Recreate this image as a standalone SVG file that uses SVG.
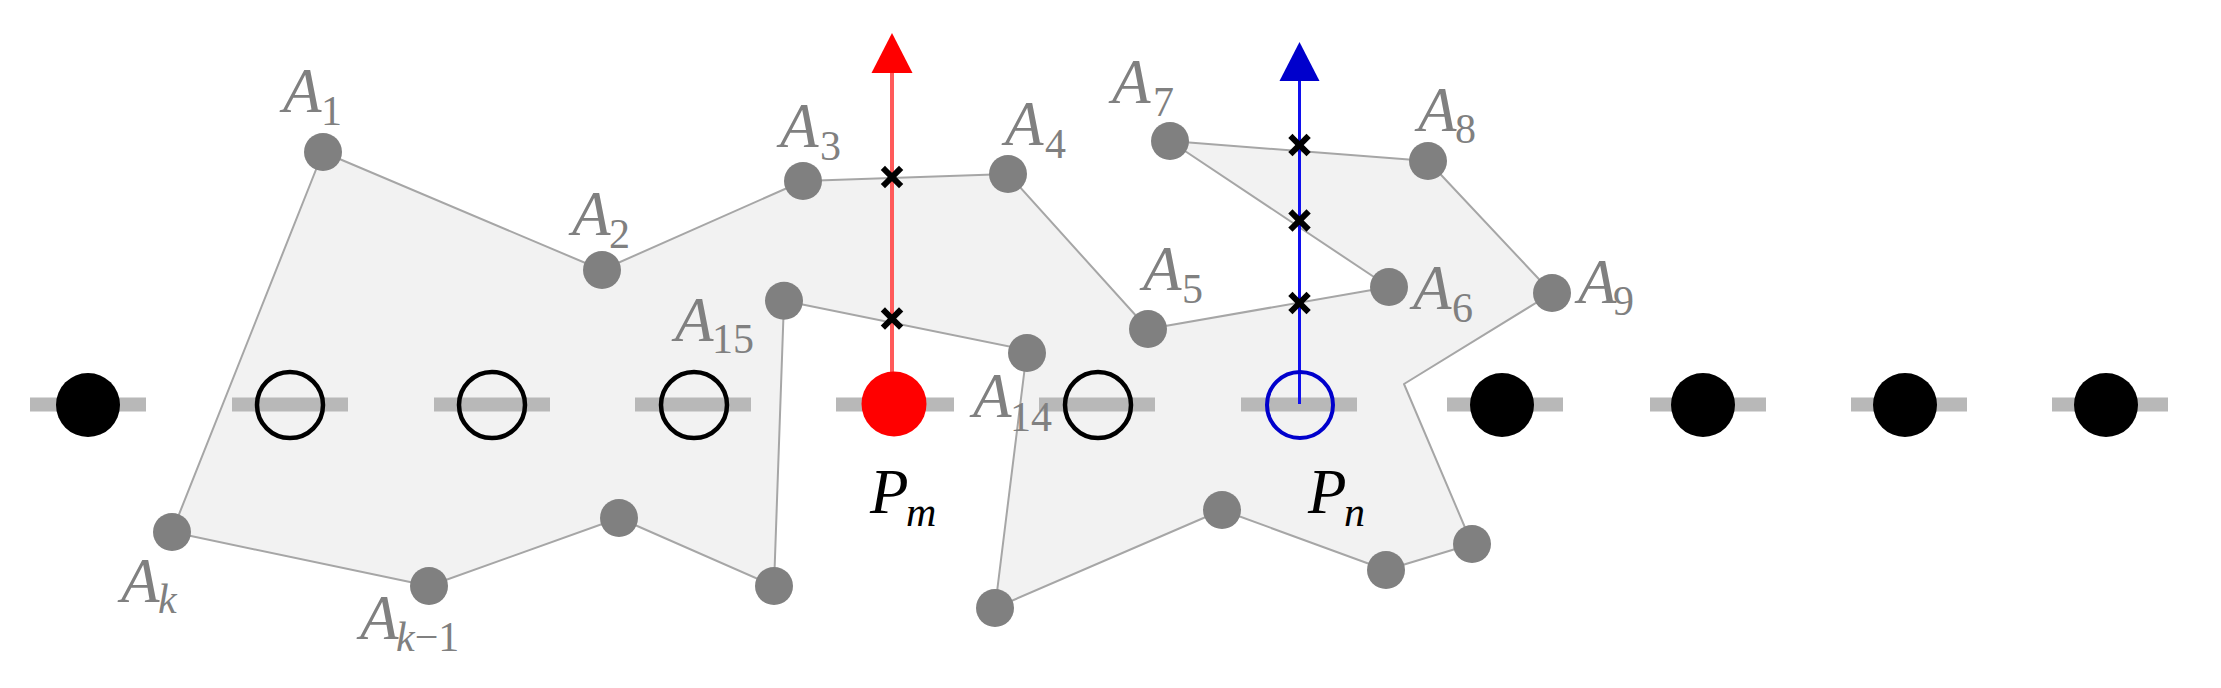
<svg xmlns="http://www.w3.org/2000/svg" width="2221" height="688" viewBox="0 0 2221 688">
<style>
.lbl{font-family:"Liberation Serif","DejaVu Serif",serif;font-style:italic;font-size:63px;fill:#808080}
.pl{font-family:"Liberation Serif","DejaVu Serif",serif;font-style:italic;font-size:63px;fill:#000}
.sub{font-size:42px;font-style:normal}
.subi{font-size:42px;font-style:italic}
.v{fill:#808080}
.dash{stroke:#b8b8b8;stroke-width:14}
.full{fill:#000}
.open{fill:none;stroke:#000;stroke-width:4.5}
.x{stroke:#000;stroke-width:6;stroke-linecap:square}
</style>
<defs>
<g id="xm"><line class="x" x1="-7" y1="-7" x2="7" y2="7"/><line class="x" x1="-7" y1="7" x2="7" y2="-7"/></g>
</defs>
<rect width="2221" height="688" fill="#fff"/>
<g id="polygon">
<polygon points="323,152 602,270 803,181 1008,174 1148,329 1389,287 1170,141 1428,161 1552,293 1404,384 1472,544 1386,570 1222,510 995,608 1027,350 784,300.7 774,586 619,518 429,586 172,532" fill="#f2f2f2" stroke="#a6a6a6" stroke-width="2" stroke-linejoin="round"/>
</g>
<g id="baseline">
<line class="dash" x1="30" y1="404.5" x2="146" y2="404.5"/>
<line class="dash" x1="232" y1="404.5" x2="348" y2="404.5"/>
<line class="dash" x1="434" y1="404.5" x2="550" y2="404.5"/>
<line class="dash" x1="635" y1="404.5" x2="751" y2="404.5"/>
<line class="dash" x1="836" y1="404.5" x2="954" y2="404.5"/>
<line class="dash" x1="1039" y1="404.5" x2="1155" y2="404.5"/>
<line class="dash" x1="1241" y1="404.5" x2="1357" y2="404.5"/>
<line class="dash" x1="1447" y1="404.5" x2="1563" y2="404.5"/>
<line class="dash" x1="1650" y1="404.5" x2="1766" y2="404.5"/>
<line class="dash" x1="1851" y1="404.5" x2="1967" y2="404.5"/>
<line class="dash" x1="2052" y1="404.5" x2="2168" y2="404.5"/>
</g>
<g id="connectors">
<line x1="892" y1="404" x2="892" y2="70" stroke="#ff5a5a" stroke-width="4"/>
<polygon points="892,33 871.5,73 912.5,73" fill="#ff0000"/>
<line x1="1299.5" y1="404" x2="1299.5" y2="79" stroke="#1010ee" stroke-width="3"/>
<polygon points="1299.5,42 1279.5,81 1319.5,81" fill="#0000cc"/>
</g>
<g id="crossings">
<use href="#xm" x="892" y="177"/>
<use href="#xm" x="892" y="318.5"/>
<use href="#xm" x="1299.5" y="145"/>
<use href="#xm" x="1299.5" y="220.5"/>
<use href="#xm" x="1299.5" y="303"/>
</g>
<g id="grid-points">
<circle id="g0" class="full" cx="88" cy="405" r="32"/>
<circle id="g1" class="open" cx="290" cy="405" r="33"/>
<circle id="g2" class="open" cx="492" cy="405" r="33"/>
<circle id="g3" class="open" cx="694" cy="405" r="33"/>
<g id="Pm"><circle cx="894" cy="404" r="32.5" fill="#ff0000"/>
<text class="pl" x="870" y="513">P<tspan class="subi" x="906" y="526">m</tspan></text></g>
<circle id="g5" class="open" cx="1098" cy="405" r="33"/>
<g id="Pn"><circle cx="1300" cy="405" r="33" fill="none" stroke="#0000cc" stroke-width="4"/>
<text class="pl" x="1308" y="513">P<tspan class="subi" x="1344" y="526">n</tspan></text></g>
<circle id="g7" class="full" cx="1502" cy="405" r="32"/>
<circle id="g8" class="full" cx="1703" cy="405" r="32"/>
<circle id="g9" class="full" cx="1905" cy="405" r="32"/>
<circle id="g10" class="full" cx="2106" cy="405" r="32"/>
</g>
<g id="vertices">
<g id="A1"><circle class="v" cx="323" cy="152" r="19"/><text class="lbl" x="283" y="112">A<tspan class="sub" x="321" y="125">1</tspan></text></g>
<g id="A2"><circle class="v" cx="602" cy="270" r="19"/><text class="lbl" x="572" y="235">A<tspan class="sub" x="609" y="248">2</tspan></text></g>
<g id="A3"><circle class="v" cx="803" cy="181" r="19"/><text class="lbl" x="780" y="147">A<tspan class="sub" x="820" y="160">3</tspan></text></g>
<g id="A4"><circle class="v" cx="1008" cy="174" r="19"/><text class="lbl" x="1005" y="145">A<tspan class="sub" x="1045" y="158">4</tspan></text></g>
<g id="A5"><circle class="v" cx="1148" cy="329" r="19"/><text class="lbl" x="1143" y="290">A<tspan class="sub" x="1182" y="303">5</tspan></text></g>
<g id="A6"><circle class="v" cx="1389" cy="287" r="19"/><text class="lbl" x="1413" y="309">A<tspan class="sub" x="1452" y="322">6</tspan></text></g>
<g id="A7"><circle class="v" cx="1170" cy="141" r="19"/><text class="lbl" x="1112" y="103">A<tspan class="sub" x="1153" y="116">7</tspan></text></g>
<g id="A8"><circle class="v" cx="1428" cy="161" r="19"/><text class="lbl" x="1418" y="131">A<tspan class="sub" x="1455" y="143">8</tspan></text></g>
<g id="A9"><circle class="v" cx="1552" cy="293" r="19"/><text class="lbl" x="1578" y="303">A<tspan class="sub" x="1613" y="315">9</tspan></text></g>
<g id="A10"><circle class="v" cx="1472" cy="544" r="19"/></g>
<g id="A11"><circle class="v" cx="1386" cy="570" r="19"/></g>
<g id="A12"><circle class="v" cx="1222" cy="510" r="19"/></g>
<g id="A13"><circle class="v" cx="995" cy="608" r="19"/></g>
<g id="A14"><circle class="v" cx="1027" cy="353" r="19"/><text class="lbl" x="973" y="417">A<tspan class="sub" x="1010" y="431">14</tspan></text></g>
<g id="A15"><circle class="v" cx="784" cy="300.7" r="19"/><text class="lbl" x="675" y="341">A<tspan class="sub" x="712" y="353">15</tspan></text></g>
<g id="A16"><circle class="v" cx="774" cy="586" r="19"/></g>
<g id="A17"><circle class="v" cx="619" cy="518" r="19"/></g>
<g id="Ak1"><circle class="v" cx="429" cy="586" r="19"/><text class="lbl" x="360" y="639">A<tspan class="subi" x="396" y="651">k</tspan><tspan class="sub">−1</tspan></text></g>
<g id="Ak"><circle class="v" cx="172" cy="532" r="19"/><text class="lbl" x="121" y="602">A<tspan class="subi" x="158" y="613">k</tspan></text></g>
</g>
</svg>
